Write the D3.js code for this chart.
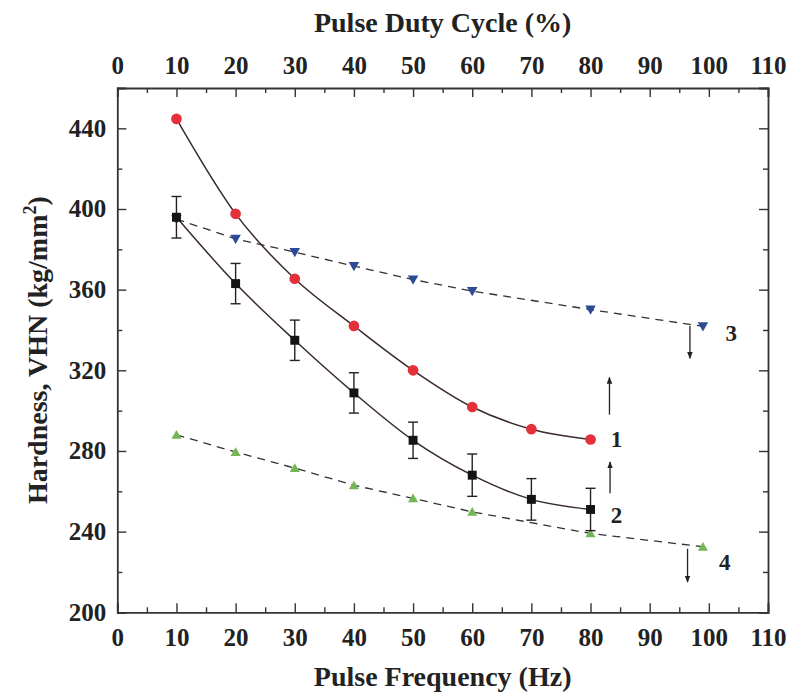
<!DOCTYPE html>
<html>
<head>
<meta charset="utf-8">
<script src="https://cdn.jsdelivr.net/npm/d3@7"></script>
<style>
  html, body { margin: 0; padding: 0; background: #fff; }
  svg { display: block; }
  .axis text { font-family: "Liberation Serif", "Times New Roman", serif; font-weight: bold; font-size: 25px; fill: #222; }
  .axis path, .axis line { stroke: #333; }
  .title { font-family: "Liberation Serif", "Times New Roman", serif; font-weight: bold; font-size: 28px; fill: #222; }
  .tag { font-family: "Liberation Serif", "Times New Roman", serif; font-weight: bold; font-size: 23px; fill: #222; }
</style>
</head>
<body>
<script>
// Pulse frequency (Hz) for the fitted series 1 and 2
const freq = [10, 20, 30, 40, 50, 60, 70, 80];
// Series 1: red circles
const hard1 = [444.7, 397.6, 365.4, 342.0, 320.0, 301.8, 290.8, 285.7];
// Series 2: black squares with error bars
const hard2 = [395.9, 363.0, 334.9, 308.8, 285.3, 268.0, 256.0, 251.0];
const err2 = [10.3, 10.0, 10.0, 10.0, 9.0, 10.5, 10.3, 10.5];
// Series 3: blue down-triangles (duty cycle, %)
const duty3 = [10, 20, 30, 40, 50, 60, 80, 99];
const hard3 = [395.0, 385.2, 378.6, 371.7, 365.0, 359.3, 350.1, 341.8];
// Series 4: green up-triangles (duty cycle, %)
const duty4 = [10, 20, 30, 40, 50, 60, 80, 99];
const hard4 = [288.0, 279.5, 271.5, 263.0, 256.5, 249.8, 239.1, 232.5];

// Axis ticks
const xMajor = [0, 10, 20, 30, 40, 50, 60, 70, 80, 90, 100, 110];
const xMinor = [5, 15, 25, 35, 45, 55, 65, 75, 85, 95, 105];
const yMajor = [200, 240, 280, 320, 360, 400, 440];
const yMinor = [220, 260, 300, 340, 380, 420];

// Series tags and trend arrows (data units)
const tagText = ["1", "2", "3", "4"];
const tagX = [84.4, 84.4, 103.8, 102.7];
const tagY = [286.2, 248.2, 338.6, 224.8];
const arrowX = [83.2, 83.3, 96.8, 96.4];
const arrowFrom = [298.0, 259.0, 342.0, 231.5];
const arrowTo = [316.5, 274.5, 326.0, 215.0];

const W = 791, H = 693;
const L = 117.3, R = 768, T = 88, B = 612.3;

const svg = d3.select("body").append("svg").attr("width", W).attr("height", H);

const x = d3.scaleLinear().domain([0, 110]).range([L, R]);
const y = d3.scaleLinear().domain([200, 460]).range([B, T]);

const defs = svg.append("defs");
defs.append("marker")
  .attr("id", "head").attr("viewBox", "0 0 10 10")
  .attr("refX", 9).attr("refY", 5)
  .attr("markerWidth", 7).attr("markerHeight", 7)
  .attr("markerUnits", "userSpaceOnUse")
  .attr("orient", "auto")
  .append("path").attr("d", "M0,1 L10,5 L0,9 Z").attr("fill", "#222");

// Axes: major ticks with labels, minor ticks without
function drawAxis(gen, pos, major, minor, labels, pad) {
  const g = svg.append("g").attr("class", "axis").attr("transform", pos);
  g.call(gen(major.length ? (gen === d3.axisBottom || gen === d3.axisTop ? x : y) : x)
    .tickValues(major).tickSize(-9).tickPadding(pad)
    .tickFormat(labels ? d3.format("d") : () => ""));
  const sc = (gen === d3.axisBottom || gen === d3.axisTop) ? x : y;
  const gm = svg.append("g").attr("class", "axis").attr("transform", pos);
  gm.call(gen(sc).tickValues(minor).tickSize(-5).tickFormat(() => ""));
  gm.select(".domain").remove();
  g.select(".domain").attr("stroke-width", 1.8);
  g.selectAll(".tick line").attr("stroke-width", 1.4);
  gm.selectAll(".tick line").attr("stroke-width", 1.4);
  return g;
}
drawAxis(d3.axisBottom, `translate(0,${B})`, xMajor, xMinor, true, 16);
drawAxis(d3.axisTop, `translate(0,${T})`, xMajor, xMinor, true, 14);
drawAxis(d3.axisLeft, `translate(${L},0)`, yMajor, yMinor.concat([460]), true, 11);
drawAxis(d3.axisRight, `translate(${R},0)`, yMajor, yMinor.concat([460]), false, 0);

// Titles
svg.append("text").attr("class", "title").attr("text-anchor", "middle")
  .attr("x", (L + R) / 2).attr("y", 686).text("Pulse Frequency (Hz)");
svg.append("text").attr("class", "title").attr("text-anchor", "middle")
  .attr("x", (L + R) / 2).attr("y", 32).text("Pulse Duty Cycle (%)");
const yt = svg.append("text").attr("class", "title").attr("text-anchor", "middle")
  .attr("transform", `translate(47,${(T + B) / 2}) rotate(-90)`);
yt.append("tspan").text("Hardness, VHN (kg/mm");
yt.append("tspan").attr("dy", -11).attr("font-size", 18).text("2");
yt.append("tspan").attr("dy", 11).text(")");

const plot = svg.append("g");

// Dashed guide lines for series 3 and 4
const linLine = d3.line().x(d => x(d[0])).y(d => y(d[1]));
[[duty3, hard3], [duty4, hard4]].forEach(([xs, ys]) => {
  plot.append("path")
    .attr("d", linLine(xs.map((v, i) => [v, ys[i]])))
    .attr("fill", "none").attr("stroke", "#333").attr("stroke-width", 1.3)
    .attr("stroke-dasharray", "8,6");
});

// Smooth fit curves for series 1 and 2
const fitLine = d3.line().x(d => x(d[0])).y(d => y(d[1])).curve(d3.curveMonotoneX);
[hard1, hard2].forEach(ys => {
  plot.append("path")
    .attr("d", fitLine(freq.map((v, i) => [v, ys[i]])))
    .attr("fill", "none").attr("stroke", "#3a2a2a").attr("stroke-width", 1.5);
});

// Series 3: blue down-triangles
plot.selectAll(".s3").data(duty3.map((v, i) => [v, hard3[i]])).join("path")
  .attr("d", d3.symbol(d3.symbolTriangle, 48)())
  .attr("transform", d => `translate(${x(d[0])},${y(d[1]) - 1}) rotate(180)`)
  .attr("fill", "#2c4a96");

// Series 4: green up-triangles
plot.selectAll(".s4").data(duty4.map((v, i) => [v, hard4[i]])).join("path")
  .attr("d", d3.symbol(d3.symbolTriangle, 44)())
  .attr("transform", d => `translate(${x(d[0])},${y(d[1]) + 1})`)
  .attr("fill", "#74b655");

// Series 2 error bars
const eb = plot.selectAll(".eb").data(freq.map((v, i) => [v, hard2[i], err2[i]])).join("g");
eb.append("line")
  .attr("x1", d => x(d[0])).attr("x2", d => x(d[0]))
  .attr("y1", d => y(d[1] - d[2])).attr("y2", d => y(d[1] + d[2]))
  .attr("stroke", "#222").attr("stroke-width", 1.4);
eb.selectAll(".cap").data(d => [[d[0], d[1] - d[2]], [d[0], d[1] + d[2]]]).join("line")
  .attr("x1", d => x(d[0]) - 5).attr("x2", d => x(d[0]) + 5)
  .attr("y1", d => y(d[1])).attr("y2", d => y(d[1]))
  .attr("stroke", "#222").attr("stroke-width", 1.4);

// Series 2: black squares
plot.selectAll(".s2").data(freq.map((v, i) => [v, hard2[i]])).join("path")
  .attr("d", d3.symbol(d3.symbolSquare, 80)())
  .attr("transform", d => `translate(${x(d[0])},${y(d[1])})`)
  .attr("fill", "#141414");

// Series 1: red circles
plot.selectAll(".s1").data(freq.map((v, i) => [v, hard1[i]])).join("path")
  .attr("d", d3.symbol(d3.symbolCircle, 90)())
  .attr("transform", d => `translate(${x(d[0])},${y(d[1])})`)
  .attr("fill", "#e3303a");

// Trend arrows
plot.selectAll(".arrow").data(arrowX.map((v, i) => [v, arrowFrom[i], arrowTo[i]])).join("line")
  .attr("x1", d => x(d[0])).attr("x2", d => x(d[0]))
  .attr("y1", d => y(d[1])).attr("y2", d => y(d[2]))
  .attr("stroke", "#222").attr("stroke-width", 1.3)
  .attr("marker-end", "url(#head)");

// Series tags
plot.selectAll(".tag").data(tagText.map((t, i) => [t, tagX[i], tagY[i]])).join("text")
  .attr("class", "tag").attr("text-anchor", "middle").attr("dy", "0.35em")
  .attr("x", d => x(d[1])).attr("y", d => y(d[2])).text(d => d[0]);
</script>
</body>
</html>
